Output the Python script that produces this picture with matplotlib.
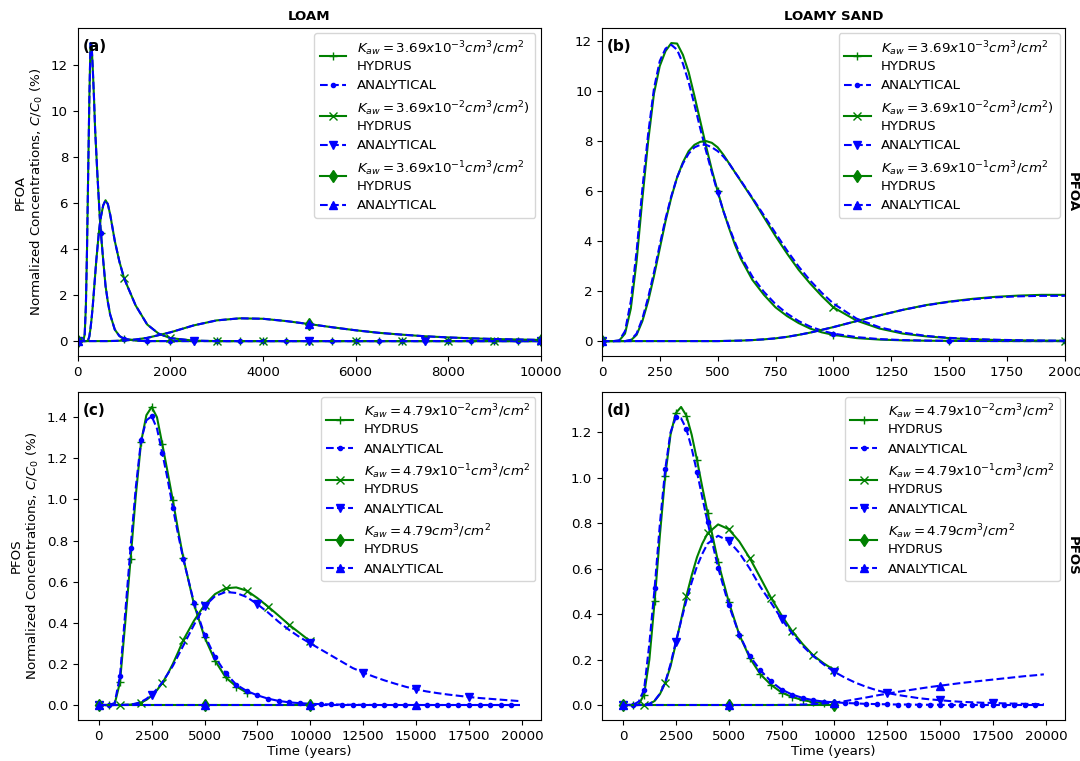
import matplotlib
matplotlib.use('Agg')
import matplotlib.pyplot as plt
import numpy as np

plt.rcParams['font.size'] = 9.6
nan = np.nan

# ---------------- LOAM / PFOA (a) ----------------
t_a = [0, 25, 50, 75, 100, 125, 150, 175, 200, 225, 250, 275, 300, 325, 350, 375, 400, 425, 450, 475, 500,
       550, 600, 650, 700, 800, 900, 1000, 1250, 1500, 1750, 2000,
       2500, 3000, 3500, 4000, 4500, 5000, 5500, 6000, 6500, 7000, 7500, 8000, 8500, 9000, 9500, 10000]
loam_pfoa_1 = [0, 0, 0, 0, 0, 0.05, 0.3, 1.5, 4.0, 7.3, 10.5, 12.95, 12.85, 11.8, 10.6, 9.2, 8.2, 7.2, 6.3, 5.4, 4.7,
               3.5, 2.4, 1.7, 1.15, 0.5, 0.22, 0.1, 0.02, 0, 0, 0,
               0, 0, 0, 0, 0, 0, 0, 0, 0, 0, 0, 0, 0, 0, 0, 0]
loam_pfoa_2 = [0, 0, 0, 0, 0, 0, 0, 0, 0, 0.05, 0.2, 0.55, 1.0, 1.55, 2.2, 2.85, 3.5, 4.05, 4.6, 5.05, 5.4,
               5.9, 6.12, 5.95, 5.5, 4.35, 3.45, 2.73, 1.55, 0.72, 0.32, 0.13,
               0.02, 0, 0, 0, 0, 0, 0, 0, 0, 0, 0, 0, 0, 0, 0, 0]
loam_pfoa_3 = [0, 0, 0, 0, 0, 0, 0, 0, 0, 0, 0, 0, 0, 0, 0, 0, 0, 0, 0, 0, 0,
               0, 0, 0, 0.003, 0.008, 0.015, 0.025, 0.07, 0.14, 0.26, 0.38,
               0.68, 0.90, 0.99, 0.97, 0.87, 0.74, 0.60, 0.47, 0.36, 0.28, 0.21, 0.16, 0.12, 0.09, 0.07, 0.05]
# HYDRUS and analytical curves coincide for the loam PFOA case
loam_pfoa_ana_1, loam_pfoa_ana_2, loam_pfoa_ana_3 = loam_pfoa_1, loam_pfoa_2, loam_pfoa_3

# ---------------- LOAMY SAND / PFOA (b) ----------------
t_b = [0, 25, 50, 75, 100, 125, 150, 175, 200, 225, 250, 275, 300, 325, 350, 375, 400, 425, 450, 475, 500,
       525, 550, 575, 600, 650, 700, 750, 800, 850, 900, 950, 1000,
       1100, 1200, 1300, 1400, 1500, 1600, 1700, 1800, 1900, 2000]
sand_pfoa_hyd_1 = [0, 0, 0, 0.02, 0.3, 1.3, 3.2, 5.7, 8.0, 9.9, 11.0, 11.6, 11.92, 11.9, 11.45, 10.75, 9.8, 8.8, 7.8, 6.85, 6.0,
                   5.2, 4.5, 3.85, 3.3, 2.45, 1.85, 1.35, 1.0, 0.72, 0.5, 0.35, 0.25,
                   0.12, 0.06, 0.03, 0.015, 0.008, 0.004, 0.002, 0.001, 0, 0]
sand_pfoa_ana_1 = [0, 0, 0, 0.03, 0.4, 1.6, 3.6, 6.1, 8.3, 10.1, 11.2, 11.7, 11.85, 11.65, 11.1, 10.35, 9.45, 8.5, 7.6, 6.75, 5.95,
                   5.2, 4.55, 3.95, 3.4, 2.58, 1.97, 1.48, 1.1, 0.8, 0.58, 0.42, 0.3,
                   0.16, 0.08, 0.04, 0.02, 0.01, 0.005, 0.003, 0.001, 0, 0]
sand_pfoa_hyd_2 = [0, 0, 0, 0, 0, 0.03, 0.25, 0.8, 1.6, 2.6, 3.7, 4.8, 5.75, 6.55, 7.15, 7.6, 7.85, 7.97, 8.0, 7.93, 7.75,
                   7.45, 7.1, 6.75, 6.4, 5.7, 4.95, 4.2, 3.5, 2.85, 2.3, 1.8, 1.35,
                   0.82, 0.5, 0.3, 0.19, 0.12, 0.07, 0.045, 0.03, 0.02, 0.012]
sand_pfoa_ana_2 = [0, 0, 0, 0, 0, 0.05, 0.3, 0.9, 1.75, 2.75, 3.85, 4.9, 5.8, 6.55, 7.1, 7.5, 7.75, 7.85, 7.85, 7.75, 7.6,
                   7.38, 7.1, 6.75, 6.42, 5.73, 5.03, 4.32, 3.62, 2.98, 2.42, 1.93, 1.5,
                   0.9, 0.55, 0.34, 0.21, 0.13, 0.085, 0.055, 0.035, 0.022, 0.014]
sand_pfoa_hyd_3 = [0, 0, 0, 0, 0, 0, 0, 0, 0, 0, 0, 0, 0, 0, 0, 0, 0, 0, 0, 0, 0,
                   0.005, 0.01, 0.015, 0.02, 0.04, 0.07, 0.11, 0.17, 0.25, 0.34, 0.45, 0.56,
                   0.8, 1.03, 1.25, 1.44, 1.58, 1.69, 1.77, 1.82, 1.85, 1.85]
sand_pfoa_ana_3 = [0, 0, 0, 0, 0, 0, 0, 0, 0, 0, 0, 0, 0, 0, 0, 0, 0, 0, 0, 0, 0,
                   0.005, 0.01, 0.015, 0.02, 0.04, 0.07, 0.11, 0.17, 0.25, 0.34, 0.45, 0.56,
                   0.8, 1.03, 1.25, 1.43, 1.57, 1.67, 1.75, 1.79, 1.81, 1.81]

# ---------------- PFOS time grids (c, d) ----------------
t_hyd_cd = [0, 250, 500, 750, 1000, 1250, 1500, 1750, 2000, 2250, 2500, 2750, 3000, 3250, 3500, 3750, 4000,
            4500, 5000, 5500, 6000, 6500, 7000, 7500, 8000, 8500, 9000, 9500, 10000]
t_ana_cd = [0, 250, 500, 750, 1000, 1250, 1500, 1750, 2000, 2250, 2500, 2750, 3000, 3250, 3500, 3750, 4000,
            4500, 5000, 5500, 6000, 6500, 7000, 7500, 8000, 8500, 9000, 9500, 10000, 10500, 11000, 11500, 12000,
            12500, 13000, 13500, 14000, 14500, 15000, 15500, 16000, 16500, 17000, 17500, 18000, 18500, 19000,
            19500, 19900]

# ---------------- LOAM / PFOS (c) ----------------
loam_pfos_hyd_1 = [0, 0, 0, 0.005, 0.11, 0.40, 0.708, 1.02, 1.28, 1.41, 1.45, 1.40, 1.27, 1.135, 0.996, 0.85, 0.713,
                   0.49, 0.33, 0.215, 0.134, 0.09, 0.06, nan, nan, nan, nan, nan, nan]
loam_pfos_ana_1 = [0, 0, 0, 0.01, 0.14, 0.45, 0.765, 1.06, 1.29, 1.385, 1.405, 1.345, 1.226, 1.10, 0.96, 0.83, 0.708,
                   0.498, 0.341, 0.233, 0.155, 0.099, 0.068, 0.047, 0.031, 0.02, 0.013, 0.009, 0.006, 0.004, 0.003,
                   0.002, 0.001, 0.001, 0, 0, 0, 0, 0, 0, 0, 0, 0, 0, 0, 0, 0, 0, 0]
loam_pfos_hyd_2 = [0, 0, 0, 0, 0, 0.001, 0.002, 0.006, 0.012, 0.025, 0.045, 0.072, 0.107, 0.15, 0.20, 0.257, 0.317,
                   0.41, 0.487, 0.54, 0.568, 0.572, 0.556, 0.52, 0.479, 0.435, 0.39, 0.35, 0.31]
loam_pfos_ana_2 = [0, 0, 0, 0, 0, 0.001, 0.002, 0.007, 0.015, 0.03, 0.05, 0.078, 0.11, 0.15, 0.19, 0.24, 0.29,
                   0.39, 0.48, 0.53, 0.55, 0.545, 0.525, 0.49, 0.45, 0.405, 0.365, 0.33, 0.30, 0.27, 0.24,
                   0.21, 0.18, 0.158, 0.138, 0.12, 0.104, 0.089, 0.076, 0.066, 0.058, 0.051, 0.045, 0.039, 0.034,
                   0.03, 0.026, 0.022, 0.019]
loam_pfos_hyd_3 = [0, 0, 0, 0, 0, 0, 0, 0, 0, 0, 0, 0, 0, 0, 0, 0, 0,
                   0, 0, 0, 0, 0, 0, 0, 0, 0, 0, 0, 0]
loam_pfos_ana_3 = [0, 0, 0, 0, 0, 0, 0, 0, 0, 0, 0, 0, 0, 0, 0, 0, 0,
                   0, 0, 0, 0, 0, 0, 0, 0, 0, 0, 0, 0, 0, 0, 0, 0,
                   0, 0, 0, 0, 0, 0, 0, 0, 0, 0, 0, 0, 0, 0, 0, 0]

# ---------------- LOAMY SAND / PFOS (d) ----------------
sand_pfos_hyd_1 = [0, 0, 0, 0.003, 0.046, 0.2, 0.457, 0.75, 1.01, 1.19, 1.285, 1.312, 1.274, 1.19, 1.08, 0.96, 0.847,
                   0.63, 0.455, 0.31, 0.207, 0.135, 0.089, 0.055, 0.035, 0.022, 0.013, 0.008, nan]
sand_pfos_ana_1 = [0, 0, 0.002, 0.015, 0.068, 0.27, 0.516, 0.8, 1.038, 1.2, 1.266, 1.262, 1.215, 1.13, 1.026, 0.915, 0.806,
                   0.604, 0.441, 0.31, 0.215, 0.153, 0.104, 0.068, 0.046, 0.031, 0.021, 0.015, 0.012, 0.009, 0.007,
                   0.005, 0.004, 0.003, 0.002, 0.002, 0.001, 0.001, 0.001, 0, 0, 0, 0, 0, 0, 0, 0, 0, 0]
sand_pfos_hyd_2 = [0, 0, 0, 0, 0, 0.004, 0.018, 0.048, 0.097, 0.17, 0.27, 0.375, 0.479, 0.57, 0.65, 0.71, 0.755,
                   0.795, 0.774, 0.72, 0.646, 0.56, 0.472, 0.395, 0.325, 0.268, 0.218, 0.183, 0.153]
sand_pfos_ana_2 = [0, 0, 0, 0, 0.001, 0.005, 0.02, 0.05, 0.1, 0.18, 0.278, 0.37, 0.46, 0.54, 0.61, 0.665, 0.71,
                   0.745, 0.722, 0.67, 0.6, 0.52, 0.45, 0.379, 0.315, 0.26, 0.215, 0.178, 0.146, 0.12, 0.098,
                   0.08, 0.065, 0.053, 0.044, 0.037, 0.03, 0.025, 0.021, 0.017, 0.014, 0.012, 0.01, 0.009, 0.007,
                   0.006, 0.005, 0.004, 0.004]
sand_pfos_hyd_3 = [0, 0, 0, 0, 0, 0, 0, 0, 0, 0, 0, 0, 0, 0, 0, 0, 0,
                   0, 0, 0, 0, 0, 0, 0, 0, 0, 0, 0, 0]
sand_pfos_ana_3 = [0, 0, 0, 0, 0, 0, 0, 0, 0, 0, 0, 0, 0, 0, 0, 0, 0,
                   0, 0, 0, 0, 0, 0, 0.0005, 0.001, 0.002, 0.004, 0.007, 0.011, 0.017, 0.025,
                   0.033, 0.042, 0.05, 0.058, 0.065, 0.072, 0.079, 0.085, 0.091, 0.097, 0.102, 0.107, 0.112, 0.117,
                   0.122, 0.127, 0.131, 0.135]

pfoa_labels = [r'$K_{aw}=3.69x10^{-3}cm^3/cm^2$', r'$K_{aw}=3.69x10^{-2}cm^3/cm^2)$',
               r'$K_{aw}=3.69x10^{-1}cm^3/cm^2$']
pfos_labels = [r'$K_{aw}=4.79x10^{-2}cm^3/cm^2$', r'$K_{aw}=4.79x10^{-1}cm^3/cm^2$',
               r'$K_{aw}=4.79cm^3/cm^2$']

hyd_markers, hyd_every = ['+', 'x', 'd'], [500, 1000, 5000]
ana_markers, ana_every = ['.', 'v', '^'], [500, 2500, 5000]


def marks(times, step):
    return [i for i, t in enumerate(times) if t % step == 0]


def draw(ax, t_h, hyd, t_an, ana, labels):
    for k in range(3):
        ax.plot(t_h, hyd[k], color='green', ls='-', marker=hyd_markers[k],
                markevery=marks(t_h, hyd_every[k]), label=labels[k] + '\nHYDRUS')
        ax.plot(t_an, ana[k], color='blue', ls='--', marker=ana_markers[k],
                markevery=marks(t_an, ana_every[k]), label='ANALYTICAL')
    ax.legend(loc='upper right', borderaxespad=0.4)


fig, axs = plt.subplots(2, 2, figsize=(10.8, 7.61))
fig.subplots_adjust(left=0.072, right=0.986, bottom=0.054, top=0.963, wspace=0.132, hspace=0.11)

draw(axs[0, 0], t_a, [loam_pfoa_1, loam_pfoa_2, loam_pfoa_3],
     t_a, [loam_pfoa_ana_1, loam_pfoa_ana_2, loam_pfoa_ana_3], pfoa_labels)
draw(axs[0, 1], t_b, [sand_pfoa_hyd_1, sand_pfoa_hyd_2, sand_pfoa_hyd_3],
     t_b, [sand_pfoa_ana_1, sand_pfoa_ana_2, sand_pfoa_ana_3], pfoa_labels)
draw(axs[1, 0], t_hyd_cd, [loam_pfos_hyd_1, loam_pfos_hyd_2, loam_pfos_hyd_3],
     t_ana_cd, [loam_pfos_ana_1, loam_pfos_ana_2, loam_pfos_ana_3], pfos_labels)
draw(axs[1, 1], t_hyd_cd, [sand_pfos_hyd_1, sand_pfos_hyd_2, sand_pfos_hyd_3],
     t_ana_cd, [sand_pfos_ana_1, sand_pfos_ana_2, sand_pfos_ana_3], pfos_labels)

axs[0, 0].set_xlim(0, 10000)
axs[0, 1].set_xlim(0, 2000)

axs[0, 0].set_title('LOAM', fontweight='bold', fontsize=9.6)
axs[0, 1].set_title('LOAMY SAND', fontweight='bold', fontsize=9.6)
axs[0, 0].set_ylabel('PFOA\nNormalized Concentrations, $C/C_0$ (%)')
axs[1, 0].set_ylabel('PFOS\nNormalized Concentrations, $C/C_0$ (%)')
axs[1, 0].set_xlabel('Time (years)', labelpad=2)
axs[1, 1].set_xlabel('Time (years)', labelpad=2)
axs[0, 1].text(1.002, 0.5, 'PFOA', transform=axs[0, 1].transAxes, rotation=270,
               va='center', ha='left', fontweight='bold')
axs[1, 1].text(1.002, 0.5, 'PFOS', transform=axs[1, 1].transAxes, rotation=270,
               va='center', ha='left', fontweight='bold')

for ax, tag in zip(axs.flat, ['(a)', '(b)', '(c)', '(d)']):
    ax.text(0.01, 0.93, tag, transform=ax.transAxes, fontweight='bold', fontsize=11)

fig.savefig('out.png', dpi=100)
